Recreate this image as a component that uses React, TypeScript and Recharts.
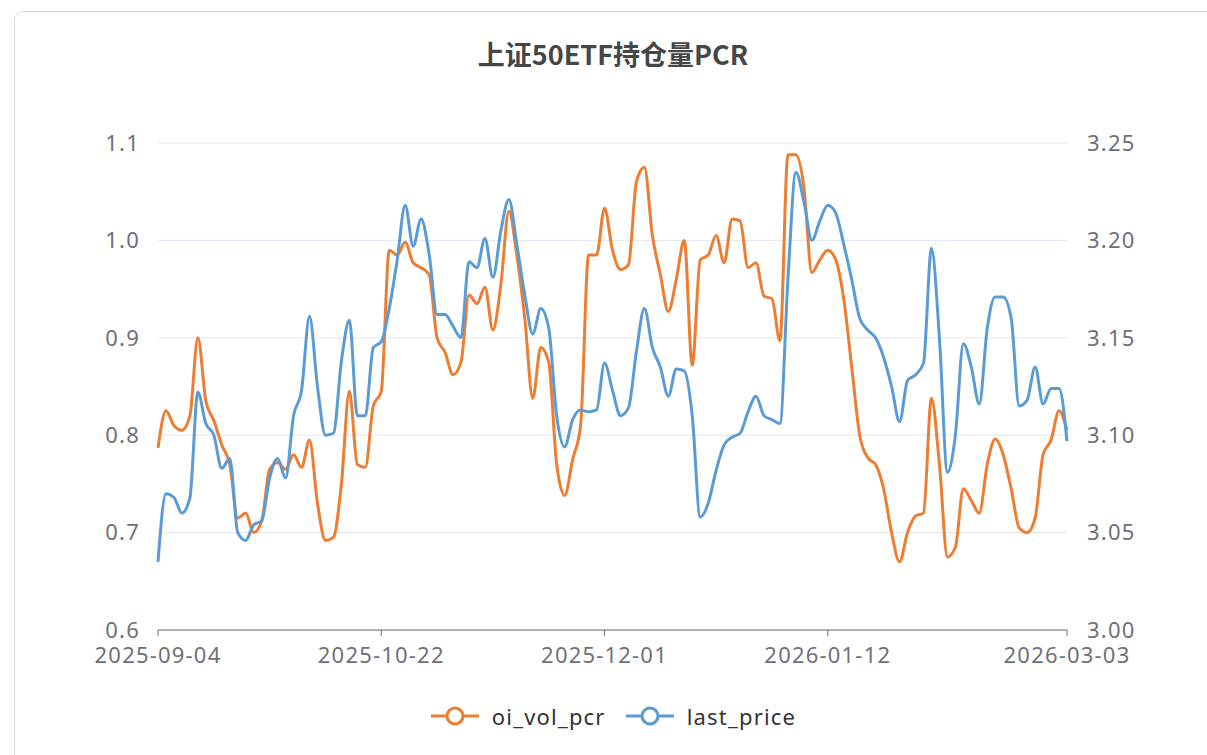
import { LineChart, Line, XAxis, YAxis, CartesianGrid } from 'recharts'

// trading days, 2025-09-04 .. 2026-03-03
const dates = [
    '2025-09-04', '2025-09-05', '2025-09-08', '2025-09-09', '2025-09-10', '2025-09-11', '2025-09-12',
    '2025-09-15', '2025-09-16', '2025-09-17', '2025-09-18', '2025-09-19', '2025-09-22', '2025-09-23',
    '2025-09-24', '2025-09-25', '2025-09-26', '2025-09-29', '2025-09-30',
    '2025-10-09', '2025-10-10', '2025-10-13', '2025-10-14', '2025-10-15', '2025-10-16', '2025-10-17',
    '2025-10-20', '2025-10-21', '2025-10-22', '2025-10-23', '2025-10-24', '2025-10-27', '2025-10-28',
    '2025-10-29', '2025-10-30', '2025-10-31',
    '2025-11-03', '2025-11-04', '2025-11-05', '2025-11-06', '2025-11-07', '2025-11-10', '2025-11-11',
    '2025-11-12', '2025-11-13', '2025-11-14', '2025-11-17', '2025-11-18', '2025-11-19', '2025-11-20',
    '2025-11-21', '2025-11-24', '2025-11-25', '2025-11-26', '2025-11-27', '2025-11-28',
    '2025-12-01', '2025-12-02', '2025-12-03', '2025-12-04', '2025-12-05', '2025-12-08', '2025-12-09',
    '2025-12-10', '2025-12-11', '2025-12-12', '2025-12-15', '2025-12-16', '2025-12-17', '2025-12-18',
    '2025-12-19', '2025-12-22', '2025-12-23', '2025-12-24', '2025-12-25', '2025-12-26', '2025-12-29',
    '2025-12-30', '2025-12-31',
    '2026-01-05', '2026-01-06', '2026-01-07', '2026-01-08', '2026-01-09', '2026-01-12', '2026-01-13',
    '2026-01-14', '2026-01-15', '2026-01-16', '2026-01-19', '2026-01-20', '2026-01-21', '2026-01-22',
    '2026-01-23', '2026-01-26', '2026-01-27', '2026-01-28', '2026-01-29', '2026-01-30',
    '2026-02-02', '2026-02-03', '2026-02-04', '2026-02-05', '2026-02-06', '2026-02-09', '2026-02-10',
    '2026-02-11', '2026-02-12', '2026-02-13', '2026-02-24', '2026-02-25', '2026-02-26', '2026-02-27',
    '2026-03-02', '2026-03-03'
]

const oiVolPcr = [
    0.787, 0.825, 0.81, 0.805, 0.82, 0.9, 0.835, 0.815, 0.79, 0.77,
    0.715, 0.72, 0.7, 0.712, 0.765, 0.772, 0.765, 0.78, 0.767, 0.795,
    0.73, 0.692, 0.695, 0.75, 0.845, 0.77, 0.767, 0.83, 0.845, 0.99,
    0.985, 0.998, 0.977, 0.972, 0.965, 0.9, 0.885, 0.862, 0.875, 0.944,
    0.935, 0.952, 0.908, 0.955, 1.03, 0.985, 0.92, 0.838, 0.89, 0.875,
    0.77, 0.738, 0.775, 0.81, 0.985, 0.985, 1.033, 0.99, 0.97, 0.975,
    1.06, 1.075, 1.005, 0.965, 0.927, 0.96, 1.0, 0.872, 0.98, 0.985,
    1.005, 0.977, 1.022, 1.02, 0.972, 0.977, 0.943, 0.94, 0.897, 1.088,
    1.088, 1.055, 0.967, 0.98, 0.99, 0.98, 0.94, 0.87, 0.8, 0.777,
    0.77, 0.745, 0.7, 0.67, 0.7, 0.717, 0.72, 0.838, 0.77, 0.675,
    0.685, 0.745, 0.733, 0.72, 0.77, 0.796, 0.78, 0.745, 0.705, 0.7,
    0.715, 0.78, 0.795, 0.825, 0.805
]

const lastPrice = [
    3.035, 3.07, 3.068, 3.06, 3.068, 3.122, 3.106, 3.1, 3.083, 3.088,
    3.05, 3.046, 3.054, 3.056, 3.078, 3.088, 3.078, 3.11, 3.123, 3.161,
    3.125, 3.1, 3.101, 3.138, 3.159, 3.11, 3.11, 3.145, 3.148, 3.165,
    3.19, 3.218, 3.197, 3.211, 3.193, 3.162, 3.162, 3.156, 3.15, 3.189,
    3.186, 3.201, 3.181, 3.205, 3.221, 3.198, 3.172, 3.152, 3.165, 3.155,
    3.11, 3.094, 3.108, 3.113, 3.112, 3.113, 3.137, 3.123, 3.11, 3.114,
    3.143, 3.165, 3.145, 3.135, 3.12, 3.134, 3.133, 3.11, 3.058, 3.065,
    3.082, 3.095, 3.099, 3.101, 3.112, 3.12, 3.11, 3.108, 3.106, 3.18,
    3.235, 3.22, 3.2, 3.21, 3.218, 3.214, 3.198, 3.18, 3.16, 3.154,
    3.15, 3.14, 3.125, 3.107, 3.128, 3.131, 3.137, 3.196, 3.15, 3.081,
    3.1, 3.147, 3.135, 3.116, 3.155, 3.171, 3.171, 3.16, 3.115, 3.118,
    3.135, 3.116, 3.124, 3.124, 3.097
]

const dateTicks = ['2025-09-04', '2025-10-22', '2025-12-01', '2026-01-12', '2026-03-03']
const pcrTicks = [0.6, 0.7, 0.8, 0.9, 1.0, 1.1]
const priceTicks = [3.0, 3.05, 3.1, 3.15, 3.2, 3.25]

const ORANGE = '#ED7D31'
const BLUE = '#5B9BD5'
const AXIS = '#6E7079'
const FONT = "'Noto Sans', 'Noto Sans CJK SC', sans-serif"

const rows = dates.map((d, i) => ({
    date: d,
    oi_vol_pcr: oiVolPcr[i],
    last_price: lastPrice[i]
}))

const tickStyle = { fill: AXIS, fontSize: 22, fontFamily: FONT, letterSpacing: 1.2 }

function LegendItem({ color, label }: { color: string; label: string }) {
    return (
        <div style={{ display: 'flex', alignItems: 'center', gap: 13 }}>
            <svg width={48} height={22}>
                <line x1={0} y1={11} x2={48} y2={11} stroke={color} strokeWidth={3} />
                <circle cx={24} cy={11} r={8} fill="#fff" stroke={color} strokeWidth={3} />
            </svg>
            <span>{label}</span>
        </div>
    )
}

export default function App() {
    return (
        <div style={{ position: 'fixed', left: 0, top: 0, width: 1207, height: 755, overflow: 'hidden', background: '#fff' }}>
            {/* card */}
            <div
                style={{
                    position: 'absolute',
                    left: 14,
                    top: 11,
                    width: 1240,
                    height: 800,
                    border: '1px solid #dcdcdc',
                    borderRadius: 9,
                    boxSizing: 'border-box'
                }}
            />
            <div
                style={{
                    position: 'absolute',
                    left: 613,
                    top: 40,
                    transform: 'translateX(-50%)',
                    whiteSpace: 'nowrap',
                    fontFamily: "'Noto Sans CJK SC', sans-serif",
                    fontWeight: 'bold',
                    fontSize: 27,
                    lineHeight: 1,
                    color: '#464646'
                }}
            >
                上证50ETF持仓量PCR
            </div>
            <div style={{ position: 'absolute', left: 0, top: 0 }}>
                <LineChart
                    width={1207}
                    height={755}
                    data={rows}
                    margin={{ top: 143, right: 80, bottom: 95, left: 98 }}
                >
                    <CartesianGrid vertical={false} stroke="#E0E6F1" yAxisId="pcr" />
                    <XAxis
                        dataKey="date"
                        ticks={dateTicks}
                        interval={0}
                        height={30}
                        tickSize={6}
                        tickMargin={11}
                        axisLine={{ stroke: AXIS }}
                        tickLine={{ stroke: AXIS }}
                        tick={tickStyle}
                    />
                    <YAxis
                        yAxisId="pcr"
                        domain={[0.6, 1.1]}
                        ticks={pcrTicks}
                        width={60}
                        axisLine={false}
                        tickLine={false}
                        tickSize={8}
                        tickMargin={10}
                        tick={tickStyle}
                        tickFormatter={(v: number) => v.toFixed(1)}
                    />
                    <YAxis
                        yAxisId="price"
                        orientation="right"
                        domain={[3.0, 3.25]}
                        ticks={priceTicks}
                        width={60}
                        axisLine={false}
                        tickLine={false}
                        tickSize={8}
                        tickMargin={12}
                        tick={tickStyle}
                        tickFormatter={(v: number) => v.toFixed(2)}
                    />
                    <Line
                        yAxisId="pcr"
                        type="monotone"
                        dataKey="oi_vol_pcr"
                        stroke={ORANGE}
                        strokeWidth={3}
                        dot={false}
                        activeDot={false}
                        isAnimationActive={false}
                    />
                    <Line
                        yAxisId="price"
                        type="monotone"
                        dataKey="last_price"
                        stroke={BLUE}
                        strokeWidth={3}
                        dot={false}
                        activeDot={false}
                        isAnimationActive={false}
                    />
                </LineChart>
            </div>
            <div
                style={{
                    position: 'absolute',
                    left: 0,
                    top: 705,
                    width: 1227,
                    display: 'flex',
                    justifyContent: 'center',
                    gap: 20,
                    fontFamily: FONT,
                    fontSize: 22,
                    letterSpacing: 1.2,
                    lineHeight: 1,
                    color: '#333'
                }}
            >
                <LegendItem color={ORANGE} label="oi_vol_pcr" />
                <LegendItem color={BLUE} label="last_price" />
            </div>
        </div>
    )
}
